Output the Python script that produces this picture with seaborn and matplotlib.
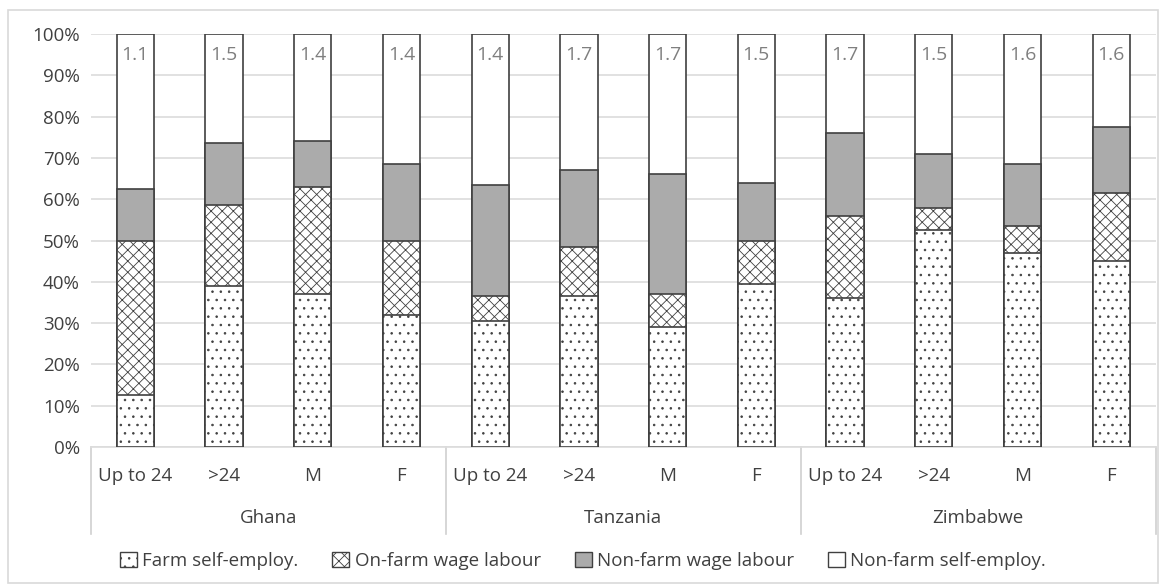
import numpy as np
import pandas as pd
import seaborn as sns
from matplotlib import pyplot as plt
from matplotlib.patches import Patch, Rectangle
import matplotlib.transforms as mtransforms

countries = ['Ghana', 'Tanzania', 'Zimbabwe']
groups = ['Up to 24', '>24', 'M', 'F']

# shares (%), in order Ghana..Zimbabwe x groups
farm_self = [12.5, 39, 37, 32, 30.5, 36.5, 29, 39.5, 36, 52.5, 47, 45]
onfarm_wage = [37.5, 19.5, 26, 18, 6, 12, 8, 10.5, 20, 5.5, 6.5, 16.5]
nonfarm_wage = [12.5, 15, 11, 18.5, 27, 18.5, 29, 14, 20, 13, 15, 16]
avg_activities = [1.1, 1.5, 1.4, 1.4, 1.4, 1.7, 1.7, 1.5, 1.7, 1.5, 1.6, 1.6]

keys = [f'{c}|{g}' for c in countries for g in groups]
df = pd.DataFrame({'key': keys,
                   'farm': farm_self,
                   'onfarm': onfarm_wage,
                   'nonfarm': nonfarm_wage})
df['c1'] = df['farm']
df['c2'] = df['c1'] + df['onfarm']
df['c3'] = df['c2'] + df['nonfarm']
df['c4'] = 100.0

plt.rcParams['hatch.linewidth'] = 0.6
plt.rcParams['font.family'] = ['Open Sans', 'DejaVu Sans']

fig = plt.figure(figsize=(11.66, 5.86), dpi=100)
ax = fig.add_axes([0.078, 0.237, 0.913, 0.705])

edge = '#404040'
fs = 13.5
layers = [('c4', 'white', None),
          ('c3', '#ababab', None),
          ('c2', 'white', 'xxx'),
          ('c1', 'white', '..')]
for col, fc, hatch in layers:
    sns.barplot(data=df, x='key', y=col, order=keys, color=fc, width=0.42,
                edgecolor=edge, linewidth=1.2, hatch=hatch, ax=ax, zorder=3)

for i, v in enumerate(avg_activities):
    ax.text(i, 95, f'{v}', ha='center', va='center', fontsize=14,
            color='#7f7f7f', zorder=5)

ax.set_ylim(0, 100)
ax.set_xlim(-0.5, len(keys) - 0.5)
ax.set_yticks(np.arange(0, 101, 10))
ax.set_yticklabels([f'{t}%' for t in range(0, 101, 10)], fontsize=fs, color='#404040')
ax.set_xticks(range(len(keys)))
ax.set_xticklabels([k.split('|')[1] for k in keys], fontsize=fs, color='#404040')
ax.tick_params(axis='x', length=0, pad=14)
ax.tick_params(axis='y', length=0, pad=8)
ax.set_xlabel('')
ax.set_ylabel('')
ax.grid(axis='y', color='#dcdcdc', linewidth=1.2, zorder=0)
ax.set_axisbelow(True)
for s in ['top', 'right', 'left']:
    ax.spines[s].set_visible(False)
ax.spines['bottom'].set_color('#dcdcdc')
ax.spines['bottom'].set_linewidth(1.2)

# country group labels and separators
trans = mtransforms.blended_transform_factory(ax.transData, ax.transAxes)
for j, c in enumerate(countries):
    ax.text(j * 4 + 1.5, -0.172, c, transform=trans, ha='center', va='center',
            fontsize=fs, color='#404040')
for xs in [-0.5, 3.5, 7.5, 11.5]:
    ax.plot([xs, xs], [0, -0.21], transform=trans, color='#d0d0d0',
            linewidth=1.2, clip_on=False)

handles = [Patch(facecolor='white', edgecolor=edge, hatch='..', label='Farm self-employ.'),
           Patch(facecolor='white', edgecolor=edge, hatch='xxx', label='On-farm wage labour'),
           Patch(facecolor='#ababab', edgecolor=edge, label='Non-farm wage labour'),
           Patch(facecolor='white', edgecolor=edge, label='Non-farm self-employ.')]
fig.legend(handles=handles, loc='center', bbox_to_anchor=(0.5, 0.043), ncol=4,
           frameon=False, fontsize=fs, handlelength=0.9, handleheight=0.9,
           handletextpad=0.3, columnspacing=1.8, labelcolor='#404040')

fig.patches.append(Rectangle((0.007, 0.005), 0.986, 0.978, transform=fig.transFigure,
                             fill=False, edgecolor='#d9d9d9', linewidth=1.2))

fig.savefig('out.png', dpi=100)
